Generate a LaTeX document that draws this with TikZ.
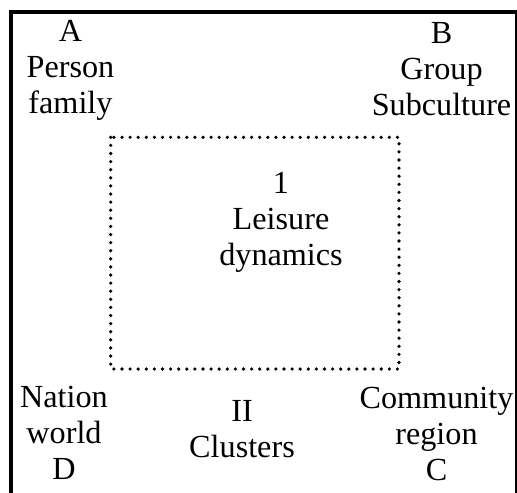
\documentclass[tikz,border=0pt]{standalone}
\usepackage{fontspec}
\setmainfont{Liberation Serif}
\usetikzlibrary{%
    arrows.meta,
    positioning
}
\tikzset{frame/.style = {draw=black, line width=2pt}}
\tikzset{dotbox/.style = {draw=black, line width=1.8pt, line cap=round,
    dash pattern=on 0pt off 4.05pt}}
\tikzset{zone/.style = {anchor=north, align=center, inner sep=0pt,
    font=\fontsize{16.1}{18}\selectfont}}

\begin{document}
\begin{tikzpicture}[x=0.5pt, y=-0.5pt]
    \useasboundingbox (0,0) rectangle (517,492);
    \draw[frame]  (11,12) rectangle (516.5,510);
    \draw[dotbox] (110.7,137.3) rectangle (399,369);

    \node[zone] (a)   at (70.5,20)    {A\\Person\\family};
    \node[zone] (b)   at (441.5,22)   {B\\Group\\Subculture};
    \node[zone] (one) at (281,171.5)  {1\\Leisure\\dynamics};
    \node[zone] (d)   at (64,385.5)   {Nation\\world\\D};
    \node[zone] (two) at (242,400.5)  {II\\Clusters};
    \node[zone] (c)   at (436.5,386.5) {Community\\region\\C};
\end{tikzpicture}
\end{document}
